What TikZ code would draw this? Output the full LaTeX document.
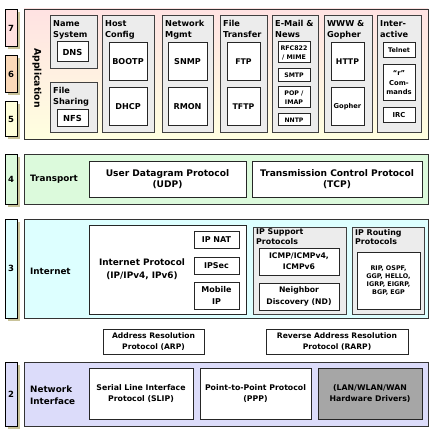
\documentclass[tikz,border=0pt]{standalone}
\usepackage{fontspec}
\setmainfont{DejaVu Sans}
\usetikzlibrary{shadows}
\definecolor{appTop}{HTML}{FFE2E2}
\definecolor{appBot}{HTML}{FFFFE0}
\definecolor{numSeven}{HTML}{FFE0E0}
\definecolor{numSix}{HTML}{FBD9B9}
\definecolor{numFive}{HTML}{FFFFDA}
\definecolor{trGreen}{HTML}{DCFADC}
\definecolor{inCyan}{HTML}{DDFFFF}
\definecolor{niLav}{HTML}{DCDCFA}
\definecolor{grpGray}{HTML}{ECECEC}
\definecolor{drvGray}{HTML}{A6A6A6}
\definecolor{shTan}{HTML}{C9C39A}
\newcommand\fs[2]{\fontsize{#1}{#2}\selectfont\bfseries}
\newcommand\Bx[7]{\node[#1, minimum width={#5pt-#3pt}, minimum height={#6pt-#4pt}] (#2) at (#3,#4) {#7};}
\tikzset{
  base/.style={rectangle, anchor=north west, inner sep=0pt, outer sep=0pt},
  lay/.style={base, draw=black!80, line width=0.9pt,
    drop shadow={shadow xshift=1.3pt, shadow yshift=-1.3pt, fill=black!30, opacity=1}},
  num/.style={base, draw=black, line width=1pt, font=\fs{8.5}{10},
    drop shadow={shadow xshift=2.5pt, shadow yshift=-2.5pt, fill=shTan, opacity=1}},
  grp/.style={base, draw=black!75, fill=grpGray, line width=0.9pt},
  wb/.style={base, draw=black!85, fill=white, line width=1pt, align=center},
  ttl/.style={anchor=north west, inner sep=0pt, align=left, font=\fs{8.2}{10.4}},
  lbl/.style={anchor=west, inner sep=0pt, align=left, font=\fs{8.8}{12.3}},
}
\begin{document}
\begin{tikzpicture}[x=1pt,y=-1pt]
\useasboundingbox (0,0) rectangle (436,433);
% ---------- Application ----------
\Bx{lay, top color=appTop, bottom color=appBot}{app}{24}{9}{428}{139}{}
\Bx{num, fill=numSeven}{n7}{5}{10}{17}{47}{7}
\Bx{num, fill=numSix}{n6}{5}{56}{17}{93}{6}
\Bx{num, fill=numFive}{n5}{5}{102}{17}{136}{5}
\node[rotate=-90, inner sep=0pt, font=\fs{9.3}{11}] (applbl) at (37,78) {Application};
% Name System
\Bx{grp}{gns}{50}{15}{97}{68}{}
\node[ttl] (tns) at (53,20.5) {Name\\System};
\Bx{wb, font=\fs{8.3}{10}}{dns}{57}{42}{88}{62}{DNS}
% File Sharing
\Bx{grp}{gfs}{50}{82}{97}{132}{}
\node[ttl] (tfs) at (53,87.5) {File\\Sharing};
\Bx{wb, font=\fs{8.3}{10}}{nfs}{57}{110}{88}{127}{NFS}
% Host Config
\Bx{grp}{ghc}{102}{15}{154}{132}{}
\node[ttl] (thc) at (105,20.5) {Host\\Config};
\Bx{wb, font=\fs{8.1}{10}}{bootp}{109}{43}{147}{81}{BOOTP}
\Bx{wb, font=\fs{8.1}{10}}{dhcp}{109}{88}{147}{126}{DHCP}
% Network Mgmt
\Bx{grp}{gnm}{162}{15}{213}{132}{}
\node[ttl] (tnm) at (165,20.5) {Network\\Mgmt};
\Bx{wb, font=\fs{8.1}{10}}{snmp}{168}{43}{207}{81}{SNMP}
\Bx{wb, font=\fs{8.1}{10}}{rmon}{168}{88}{207}{126}{RMON}
% File Transfer
\Bx{grp}{gft}{220}{15}{267}{132}{}
\node[ttl] (tft) at (223,20.5) {File\\Transfer};
\Bx{wb, font=\fs{7.8}{10}}{ftp}{227}{43}{260}{81}{FTP}
\Bx{wb, font=\fs{7.8}{10}}{tftp}{227}{88}{260}{126}{TFTP}
% E-Mail & News
\Bx{grp}{gem}{272}{15}{318}{132}{}
\node[ttl] (tem) at (275,20.5) {E-Mail \&\\News};
\Bx{wb, font=\fs{6.3}{9}}{rfc}{278}{42}{310}{63}{RFC822\\/ MIME}
\Bx{wb, font=\fs{6.2}{8}}{smtp}{278}{69}{310}{82}{SMTP}
\Bx{wb, font=\fs{6.3}{9.5}}{pop}{278}{87}{310}{108}{POP /\\IMAP}
\Bx{wb, font=\fs{6.1}{8}}{nntp}{278}{114}{310}{126}{NNTP}
% WWW & Gopher
\Bx{grp}{gww}{324}{15}{372}{132}{}
\node[ttl] (tww) at (327,20.5) {WWW \&\\Gopher};
\Bx{wb, font=\fs{7.8}{10}}{http}{331}{43}{364}{81}{HTTP}
\Bx{wb, font=\fs{6.7}{8}}{gopher}{331}{88}{364}{126}{Gopher}
% Interactive
\Bx{grp}{gia}{377}{15}{421}{132}{}
\node[ttl] (tia) at (380,20.5) {Inter-\\active};
\Bx{wb, font=\fs{6.4}{8}}{telnet}{383}{43}{415}{58}{Telnet}
\Bx{wb, font=\fs{6.8}{9.5}}{rcmd}{383}{65}{415}{101}{``r''\\Com-\\mands}
\Bx{wb, font=\fs{6.8}{8}}{irc}{383}{108}{415}{123}{IRC}
% ---------- Transport ----------
\Bx{lay, fill=trGreen}{tr}{24}{154}{428}{204}{}
\Bx{num, fill=trGreen}{n4}{5}{154}{17}{204}{4}
\node[lbl] (trlbl) at (30,179) {Transport};
\Bx{wb, font=\fs{9.1}{11.7}}{udp}{89}{161}{246}{197}{User Datagram Protocol\\(UDP)}
\Bx{wb, font=\fs{9.1}{11.7}}{tcp}{252}{161}{422}{197}{Transmission Control Protocol\\(TCP)}
% ---------- Internet ----------
\Bx{lay, fill=inCyan}{in}{24}{219}{428}{318}{}
\Bx{num, fill=inCyan}{n3}{5}{219}{17}{318}{3}
\node[lbl] (inlbl) at (30,271) {Internet};
\Bx{wb}{ip}{89}{225}{246}{314}{}
\node[inner sep=0pt, align=center, font=\fs{8.9}{12.5}] (iptxt) at (142,269) {Internet Protocol\\(IP/IPv4, IPv6)};
\Bx{wb, font=\fs{8}{10}}{nat}{194}{231}{239}{248}{IP NAT}
\Bx{wb, font=\fs{8}{10}}{ipsec}{194}{257}{239}{274}{IPSec}
\Bx{wb, font=\fs{8}{12}}{mip}{194}{282}{239}{309}{Mobile\\IP}
\Bx{grp}{gsp}{253}{227}{346}{314}{}
\node[ttl, font=\fs{7.9}{9.6}] (tsp) at (256,228.8) {IP Support\\Protocols};
\Bx{wb, font=\fs{7.7}{10.7}}{icmp}{259}{248}{339}{275}{ICMP/ICMPv4,\\ICMPv6}
\Bx{wb, font=\fs{7.7}{12}}{nd}{259}{283}{339}{310}{Neighbor\\Discovery (ND)}
\Bx{grp}{grt}{352}{227}{424}{314}{}
\node[ttl, font=\fs{7.9}{9.6}] (trt) at (355,228.8) {IP Routing\\Protocols};
\Bx{wb, font=\fs{6.4}{7.8}}{rt}{357}{252}{420}{309}{RIP, OSPF,\\GGP, HELLO,\\IGRP, EIGRP,\\BGP, EGP}
% ---------- ARP / RARP ----------
\Bx{wb, font=\fs{7.6}{11.2}}{arp}{103}{329}{204}{354}{Address Resolution\\Protocol (ARP)}
\Bx{wb, font=\fs{7.6}{11.2}}{rarp}{266}{329}{408}{354}{Reverse Address Resolution\\Protocol (RARP)}
% ---------- Network Interface ----------
\Bx{lay, fill=niLav}{ni}{24}{362}{428}{426}{}
\Bx{num, fill=niLav}{n2}{5}{362}{17}{426}{2}
\node[lbl] (nilbl) at (30,395) {Network\\Interface};
\Bx{wb, font=\fs{7.8}{11.3}}{slip}{89}{368}{193}{419}{Serial Line Interface\\Protocol (SLIP)}
\Bx{wb, font=\fs{7.8}{11.3}}{ppp}{200}{368}{311}{419}{Point-to-Point Protocol\\(PPP)}
\Bx{wb, fill=drvGray, font=\fs{7.8}{11.3}}{drv}{318}{368}{422}{419}{(LAN/WLAN/WAN\\Hardware Drivers)}
\end{tikzpicture}
\end{document}
